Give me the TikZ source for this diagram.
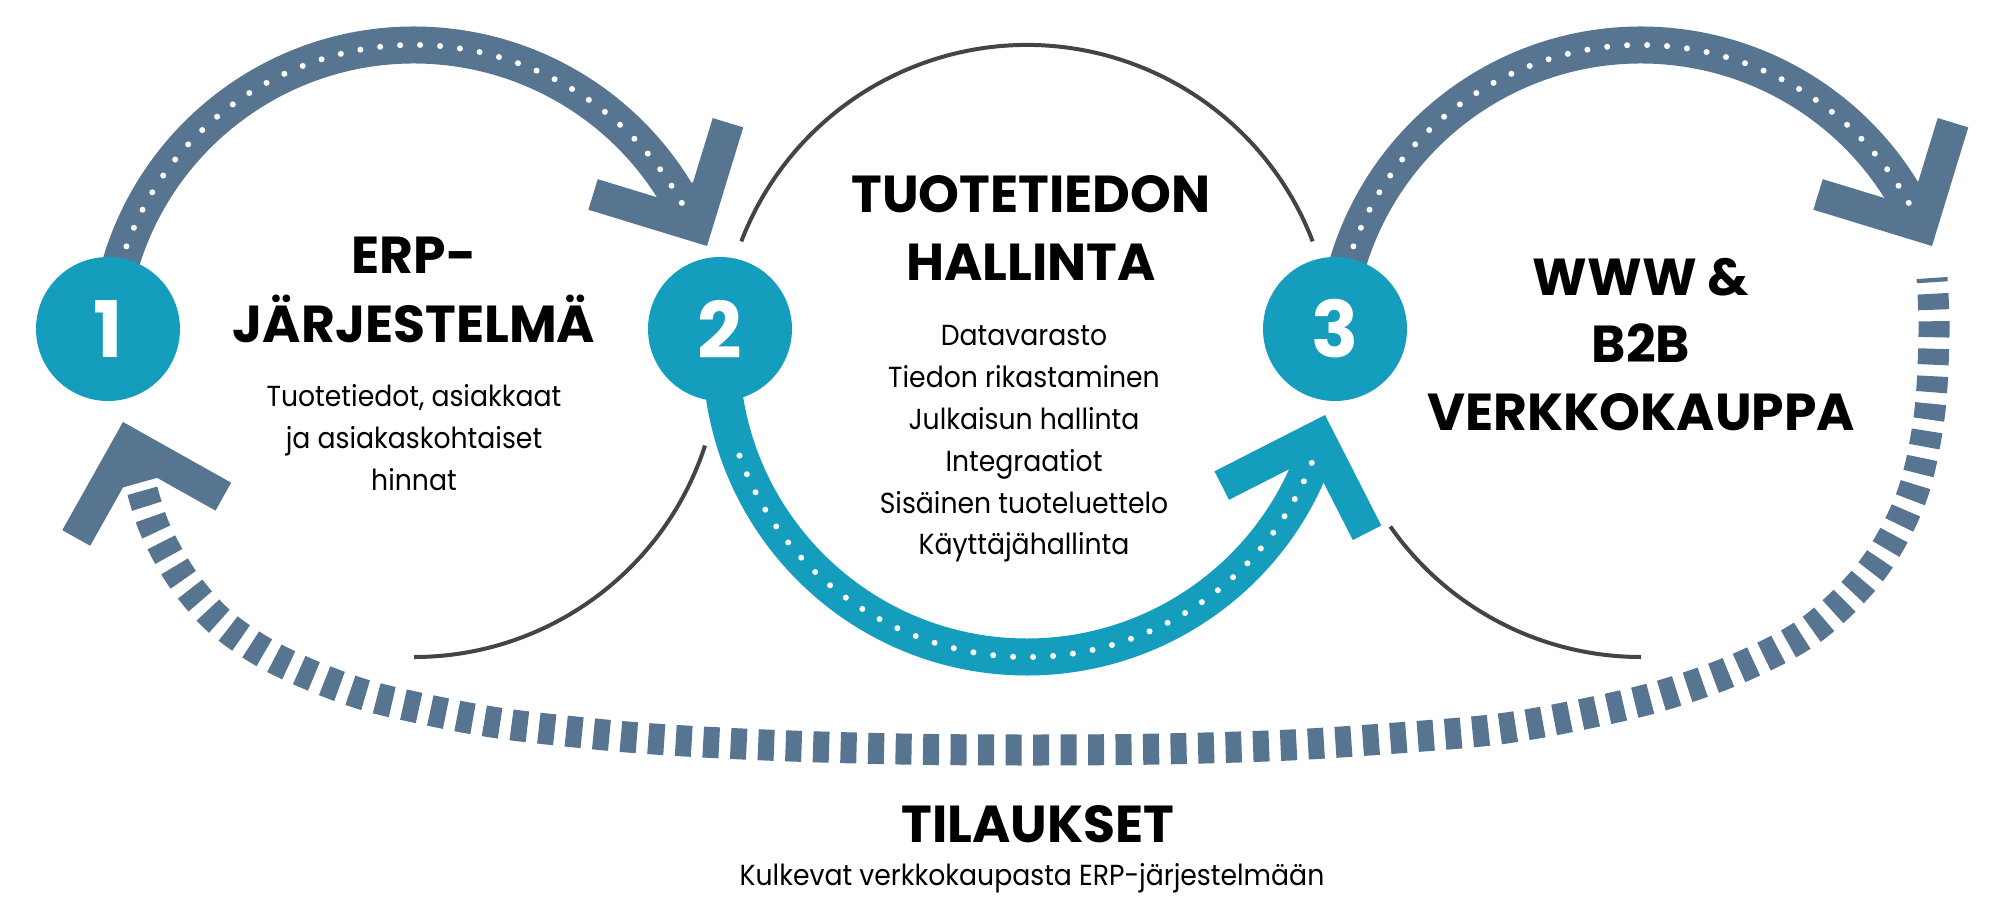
\documentclass[tikz,border=0pt]{standalone}
\usepackage{fontspec}
\setmainfont{Poppins}
\newfontfamily\bodyfont[FakeStretch=0.92]{Poppins}
\definecolor{slate}{RGB}{87,117,145}
\definecolor{teal2}{RGB}{21,157,189}
\definecolor{arcgray}{RGB}{68,68,68}
\tikzset{
  band/.style={line width=37pt},
  dots/.style={white, line width=6pt, line cap=round, dash pattern=on 0pt off 20pt},
  thinarc/.style={arcgray, line width=4pt},
  numcircle/.style={circle, fill=teal2, minimum size=144pt, inner sep=0pt, text=white,
    font=\fontsize{78}{78}\selectfont\bfseries},
  head/.style={anchor=base, inner sep=0pt, font=\fontsize{52}{60}\selectfont\bfseries},
  body/.style={anchor=base, inner sep=0pt, font=\bodyfont\fontsize{29}{34}\selectfont},
  chev/.pic={\fill (0,0) -- (-87.7,87.7) -- (-110.3,65.1) -- (-63,17.75) -- (-63,-17.75)
     -- (-110.3,-65.1) -- (-87.7,-87.7) -- cycle;}
}
\begin{document}
\begin{tikzpicture}[x=1pt,y=1pt]
\useasboundingbox (0,0) rectangle (2000,-923);
\coordinate (c1) at (414,-351);
\coordinate (c2) at (1027,-351);
\coordinate (c3) at (1641,-351);

% thin gray arcs
\draw[thinarc] (c1) ++(-18:306) arc[start angle=-18, end angle=-90, radius=306];
\draw[thinarc] (c2) ++(21:306) arc[start angle=21, end angle=159, radius=306];
\draw[thinarc] (c3) ++(-145:306) arc[start angle=-145, end angle=-90, radius=306];

% return dashed path
\draw[slate, line width=31pt, dash pattern=on 16pt off 11.5pt, dash phase=22.5pt]
  plot[smooth, tension=0.55] coordinates {(141,-486) (155,-529) (182,-578) (218,-620) (263,-652)
  (313,-676) (365,-695) (419,-708) (474,-719) (529,-727) (640,-738) (765,-745) (900,-749)
  (1030,-750) (1160,-749) (1290,-745) (1410,-737) (1499,-729) (1579,-715) (1660,-696)
  (1739,-668) (1812,-629) (1872,-570) (1911,-498) (1929,-418) (1934,-334) (1932,-278)};
\pic[color=slate, rotate=105.7] at (123,-422) {chev};

% top arcs
\draw[slate, band] (c1) ++(175:306) arc[start angle=175, end angle=26, radius=306];
\pic[color=slate, rotate=-62] at (707,-246) {chev};
\draw[dots] (c1) ++(160:306) arc[start angle=160, end angle=27, radius=306];

\draw[slate, band] (c3) ++(175:306) arc[start angle=175, end angle=26, radius=306];
\pic[color=slate, rotate=-62] at (1932,-246) {chev};
\draw[dots] (c3) ++(160:306) arc[start angle=160, end angle=27, radius=306];

% teal bottom arc
\draw[teal2, band] (c2) ++(180:306) arc[start angle=180, end angle=340, radius=306];
\pic[color=teal2, rotate=72] at (1325,-415) {chev};
\draw[dots] (c2) ++(200:306) arc[start angle=200, end angle=339, radius=306];

% number circles
\node[numcircle] (n1) at (108,-329) {1};
\node[numcircle] (n2) at (720,-329) {2};
\node[numcircle] (n3) at (1335,-329) {3};

% texts stage 1
\node[head] (h1a) at (414,-273) {ERP-};
\node[head] (h1b) at (414,-342) {JÄRJESTELMÄ};
\node[body] (b1a) at (414,-406) {Tuotetiedot, asiakkaat};
\node[body] (b1b) at (414,-448) {ja asiakaskohtaiset};
\node[body] (b1c) at (414,-490) {hinnat};

% texts stage 2
\node[head] (h2a) at (1031,-212) {TUOTETIEDON};
\node[head] (h2b) at (1031,-280) {HALLINTA};
\node[body] (b2a) at (1024,-345) {Datavarasto};
\node[body] (b2b) at (1024,-387) {Tiedon rikastaminen};
\node[body] (b2c) at (1024,-429) {Julkaisun hallinta};
\node[body] (b2d) at (1024,-471) {Integraatiot};
\node[body] (b2e) at (1024,-513) {Sisäinen tuoteluettelo};
\node[body] (b2f) at (1024,-554) {Käyttäjähallinta};

% texts stage 3
\node[head] (h3a) at (1641,-295) {WWW \&};
\node[head] (h3b) at (1641,-362) {B2B};
\node[head] (h3c) at (1641,-430) {VERKKOKAUPPA};

% bottom
\node[head] (h4) at (1038,-842) {TILAUKSET};
\node[body] (b4) at (1032,-885) {Kulkevat verkkokaupasta ERP-järjestelmään};
\end{tikzpicture}
\end{document}
